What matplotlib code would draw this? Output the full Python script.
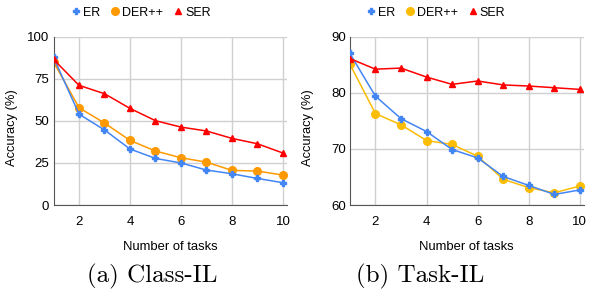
import matplotlib.pyplot as plt
from matplotlib.lines import Line2D

tasks = [1, 2, 3, 4, 5, 6, 7, 8, 9, 10]

# Class-IL accuracy (%)
class_er = [87.7, 54.0, 44.6, 33.3, 27.7, 25.0, 20.8, 18.6, 15.8, 13.3]
class_der = [85.0, 57.8, 48.7, 38.4, 32.1, 28.1, 25.5, 20.6, 20.2, 17.8]
class_ser = [86.5, 71.1, 66.1, 57.4, 50.1, 46.3, 44.0, 39.6, 36.4, 30.9]

# Task-IL accuracy (%)
task_er = [87.0, 79.4, 75.4, 73.1, 69.9, 68.4, 65.1, 63.5, 61.9, 62.7]
task_der = [85.1, 76.3, 74.3, 71.5, 70.8, 68.7, 64.6, 63.1, 62.2, 63.4]
task_ser = [86.1, 84.2, 84.4, 82.8, 81.5, 82.1, 81.4, 81.2, 80.9, 80.6]

BLUE = '#4285F4'
RED = '#FF0000'

plt.rcParams['font.family'] = ['Liberation Sans', 'DejaVu Sans']

fig = plt.figure(figsize=(5.92, 2.93), dpi=100)


def panel(rect, er, der, ser, der_color, ylim, yticks, caption, cap_x, leg_x):
    ax = fig.add_axes(rect)
    ax.plot(tasks, er, color=BLUE, marker='P', markersize=4, lw=1.1, zorder=3)
    ax.plot(tasks, der, color=der_color, marker='o', markersize=5.5, lw=1.1, zorder=2)
    ax.plot(tasks, ser, color=RED, marker='^', markersize=4, lw=1.1, zorder=4)
    ax.set_xlim(1, 10.15)
    ax.set_ylim(*ylim)
    ax.set_xticks([2, 4, 6, 8, 10])
    ax.set_yticks(yticks)
    ax.grid(True, color='#d0d0d0', lw=1.0)
    ax.set_axisbelow(True)
    for s in ['top', 'right']:
        ax.spines[s].set_visible(False)
    for s in ['left', 'bottom']:
        ax.spines[s].set_color('#555555')
    ax.tick_params(length=0, labelsize=9.5)
    ax.tick_params(axis='x', pad=8)
    ax.tick_params(axis='y', pad=3)
    ax.set_xlabel('Number of tasks', fontsize=9.4, labelpad=9)
    ax.set_ylabel('Accuracy (%)', fontsize=9.3)
    ax.yaxis.set_label_coords(-0.152, 0.46)
    handles = [
        Line2D([], [], color=BLUE, marker='P', markersize=4, ls='none'),
        Line2D([], [], color=der_color, marker='o', markersize=5.5, ls='none'),
        Line2D([], [], color=RED, marker='^', markersize=4, ls='none'),
    ]
    fig.legend(handles, ['ER', 'DER++', 'SER'], loc='center', bbox_to_anchor=(leg_x, 0.957),
               ncol=3, frameon=False, fontsize=9, handletextpad=0.05, columnspacing=0.7,
               handlelength=1.0)
    fig.text(cap_x, 0.058, caption, ha='center', va='center',
             fontsize=18, family='cmr10')
    return ax


panel([0.0904, 0.300, 0.394, 0.575], class_er, class_der, class_ser, '#FF9900',
      (0, 100), [0, 25, 50, 75, 100], '(a) Class-IL', 0.257, 0.237)
panel([0.591, 0.300, 0.395, 0.575], task_er, task_der, task_ser, '#FBBC04',
      (60, 90), [60, 70, 80, 90], '(b) Task-IL', 0.709, 0.735)

fig.savefig('out.png', dpi=100)
